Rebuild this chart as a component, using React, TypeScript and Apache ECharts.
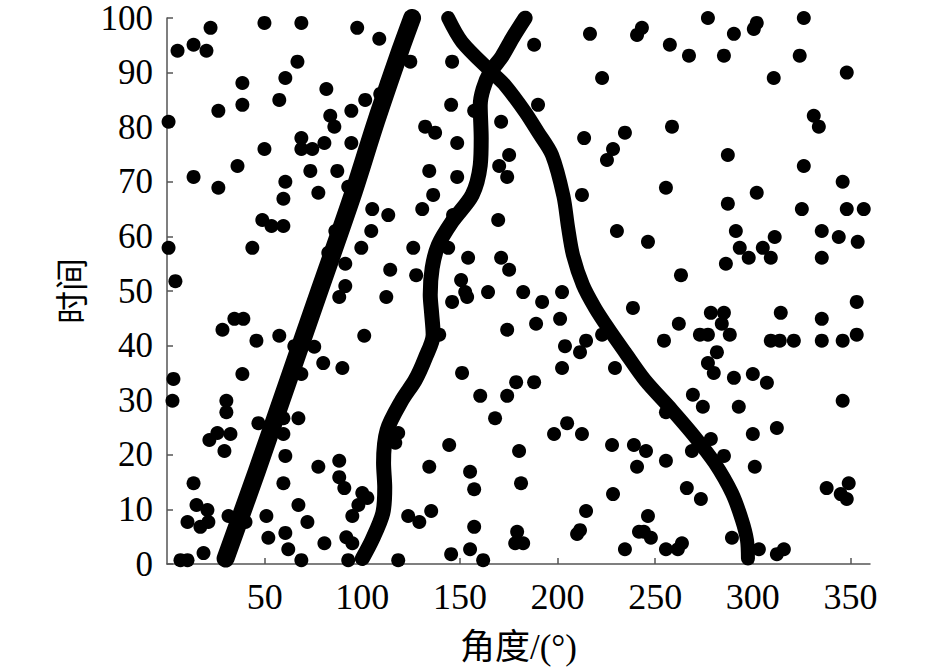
import React, { useEffect, useRef } from "react";
import * as echarts from "echarts";

const xTickValues = [50, 100, 150, 200, 250, 300, 350];
const yTickValues = [0, 10, 20, 30, 40, 50, 60, 70, 80, 90, 100];

// Three target tracks (angle, time)
const track1: number[][] = [
  [30, 1], [46, 17], [62, 33.5], [78, 50], [95, 67.5], [107, 81], [119.4, 94], [125.5, 100],
];
const track2: number[][] = [
  [100, 1], [105, 4.4], [110.5, 9.3], [111.5, 14], [110.9, 18.5], [112.7, 24.5], [120.3, 30],
  [127.1, 33.7], [132.2, 37.7], [136.3, 42], [135.5, 46], [134.8, 49.3], [135.8, 54.2],
  [138.9, 58.4], [146, 62.7], [156.3, 67.6], [160.4, 73], [160.9, 78], [160.4, 84],
  [161.9, 87], [165.4, 90], [171.6, 93], [177.2, 96.5], [183.4, 100],
];
const track3: number[][] = [
  [297.5, 1], [297, 4.4], [294.4, 8.1], [289.3, 13], [280.5, 18.5], [270.3, 23.3],
  [258.6, 28.2], [244.7, 33.7], [234.5, 38.8], [225.9, 43.2], [219.2, 46.9], [213, 51.1],
  [207.9, 56.6], [205.4, 61.6], [203, 67.4], [197.2, 74.9], [190, 79.1], [183.4, 82.8],
  [173.1, 87.7], [166.5, 90], [151.1, 95.6], [144, 100],
];

// Clutter measurements (angle, time)
const clutter: number[][] = [
  [22.3, 98.2], [49.9, 99.1], [68.8, 99.1], [97.4, 98.2], [108.7, 96.2], [5.4, 94.0], [13.6, 95.1],
  [20.2, 94.0], [66.8, 92.0], [60.6, 89.0], [38.6, 88.1], [81.6, 87.0], [112.8, 88.1], [109.2, 86.1],
  [101.5, 85.0], [57.5, 85.0], [38.6, 84.1], [26.3, 83.0], [94.4, 83.0], [83.6, 82.1], [85.7, 80.1],
  [0.8, 81.0], [68.8, 78.0], [68.8, 76.0], [74.4, 76.0], [80.6, 77.1], [94.4, 77.1], [49.9, 76.0],
  [36.1, 72.9], [73.4, 72.0], [87.2, 72.0], [13.6, 70.9], [26.3, 68.9], [60.6, 70.0], [59.6, 66.9],
  [77.5, 68.0], [92.8, 69.1],
  [105.1, 65.0], [113.3, 63.9], [48.8, 63.0], [53.5, 61.9], [59.6, 61.9], [86.2, 61.0], [104.6, 61.0],
  [0.8, 57.9], [43.7, 57.9], [82.6, 57.0], [99.5, 57.9], [91.3, 55.0], [114.3, 53.9], [4.3, 51.8],
  [91.3, 50.9], [88.2, 48.9], [112.3, 48.9], [34.5, 44.9], [39.1, 44.9], [28.4, 42.9], [45.8, 40.9],
  [57.5, 41.8], [101.0, 41.8], [65.2, 39.9], [75.4, 39.8], [80.0, 36.8], [89.8, 35.9], [68.8, 34.8],
  [38.6, 34.8], [3.3, 33.9],
  [2.8, 29.9], [30.4, 29.9], [30.4, 27.8], [46.8, 25.8], [59.6, 26.7], [67.3, 26.7], [59.6, 23.8],
  [21.7, 22.7], [25.8, 24.0], [32.5, 23.8], [29.4, 20.7], [60.6, 19.8], [77.5, 17.8], [88.2, 18.9],
  [88.2, 15.9], [90.8, 13.9], [59.6, 14.8], [13.6, 14.8], [15.1, 10.8], [20.7, 9.9], [10.5, 7.7],
  [17.1, 6.8], [21.2, 7.7], [31.5, 8.8], [40.2, 7.7], [50.9, 8.8], [67.3, 10.8], [71.9, 7.7],
  [60.6, 5.7], [51.9, 4.8], [62.1, 2.7], [68.8, 0.7], [18.7, 2.0], [6.9, 0.7], [10.5, 0.7],
  [80.6, 3.8], [91.8, 4.9], [94.9, 3.8], [92.8, 0.7], [94.9, 8.8], [100.0, 13.0], [102.6, 12.1],
  [98.0, 10.8], [116.9, 22.2], [118.4, 24.0], [118.4, 0.7],
  [136.3, 67.6], [212.5, 67.6], [130.7, 65.0], [146.5, 63.9], [169.6, 63.0], [230.4, 61.0],
  [126.1, 57.9], [144.0, 57.9], [154.2, 56.1], [171.1, 56.1], [175.2, 53.9], [127.6, 52.9],
  [150.6, 52.0], [152.7, 49.8], [153.7, 48.9], [146.0, 48.0], [164.4, 49.8], [182.4, 49.8],
  [192.1, 48.0], [202.3, 49.8], [201.3, 44.9], [238.6, 46.9], [189.0, 44.0], [174.2, 42.9],
  [139.4, 42.0], [203.8, 39.9], [214.6, 40.9], [211.5, 38.8], [222.8, 42.0], [202.3, 35.9],
  [229.4, 35.9], [151.1, 35.0], [178.8, 33.3], [188.0, 33.3],
  [160.4, 30.8], [174.2, 30.8], [168.0, 26.7], [198.2, 23.8], [204.9, 25.8], [212.5, 23.8],
  [227.9, 21.8], [239.1, 21.8], [240.7, 17.8], [144.5, 21.8], [180.3, 20.7], [134.3, 17.8],
  [155.2, 16.9], [157.3, 13.7], [181.3, 14.8], [228.4, 12.8], [214.6, 9.7], [123.5, 8.8],
  [129.2, 7.7], [135.3, 9.7], [157.3, 6.8], [155.2, 2.7], [145.5, 1.8], [161.9, 0.7], [179.3, 5.9],
  [178.3, 3.8], [182.4, 3.8], [210.0, 5.5], [211.5, 6.2], [234.5, 2.7], [241.7, 5.9],
  [124.6, 92.0], [146.0, 92.0], [188.0, 95.1], [216.6, 97.1], [222.8, 89.0], [145.5, 84.1],
  [190.0, 84.1], [157.3, 83.0], [171.1, 81.0], [132.2, 80.1], [137.3, 79.0], [148.6, 77.1],
  [213.6, 78.0], [234.5, 79.0], [228.4, 76.0], [225.3, 74.0], [175.2, 74.9], [170.1, 72.9],
  [174.2, 70.9], [134.3, 72.0], [148.6, 70.9],
  [243.2, 98.2], [240.7, 96.9], [277.0, 100.0], [326.1, 100.0], [302.0, 99.1], [300.5, 98.0],
  [290.3, 97.1], [257.5, 95.1], [267.3, 93.1], [285.2, 93.1], [324.0, 93.1], [348.1, 90.0],
  [310.7, 89.0], [331.2, 82.1], [333.8, 80.1], [258.6, 80.1], [287.2, 74.9], [326.1, 72.9],
  [255.5, 68.9], [302.0, 68.0], [346.0, 70.0],
  [287.2, 66.0], [325.1, 65.0], [348.1, 65.0], [356.8, 65.0], [246.3, 59.0], [291.3, 61.0],
  [311.2, 59.9], [293.3, 57.9], [305.1, 57.9], [297.9, 56.1], [309.2, 56.1], [286.2, 55.0],
  [335.3, 61.0], [344.0, 59.9], [353.7, 59.0], [335.3, 56.1], [263.2, 52.9], [353.2, 48.0],
  [278.5, 46.0], [285.2, 46.0], [284.1, 44.0], [262.1, 44.0], [314.3, 46.0], [335.3, 44.9],
  [353.2, 42.0], [254.5, 40.9], [272.9, 42.0], [277.0, 42.0], [288.2, 42.0], [309.2, 40.9],
  [313.8, 40.9], [321.0, 40.9], [335.3, 40.9], [346.0, 40.9], [281.6, 38.8], [277.0, 36.8],
  [280.0, 35.0], [290.3, 34.1], [300.0, 34.8], [307.2, 33.2],
  [269.3, 31.0], [274.4, 28.8], [292.8, 28.8], [346.0, 29.9], [312.3, 24.9], [300.0, 23.8],
  [301.0, 17.8], [278.5, 22.9], [285.2, 19.8], [268.8, 20.7], [255.5, 27.8], [245.3, 20.7],
  [255.5, 18.9], [266.2, 13.9], [273.4, 11.9], [246.3, 8.8], [244.2, 5.9], [247.8, 4.8],
  [255.5, 2.7], [261.6, 2.7], [263.7, 3.8], [289.3, 4.8], [303.1, 2.7], [312.3, 1.8], [315.9, 2.7],
  [337.8, 13.9], [349.1, 14.8], [345.0, 12.8], [348.1, 11.9],
];

const FONT = "'Liberation Serif', 'Times New Roman', 'Noto Sans CJK SC', serif";
const AXIS_COLOR = "#555";

export default function App() {
  const ref = useRef<HTMLDivElement>(null);
  useEffect(() => {
    if (!ref.current) return;
    const chart = echarts.init(ref.current, null, { renderer: "svg" });
    const trackSeries = (data: number[][], width: number) => ({
      type: "line",
      data,
      showSymbol: false,
      smooth: 0.3,
      clip: true,
      lineStyle: { color: "#000", width, cap: "round", join: "round", opacity: 1 },
      z: 3,
    });
    chart.setOption({
      animation: false,
      backgroundColor: "#fff",
      grid: { left: 167, right: 75, top: 18, bottom: 108 },
      xAxis: {
        type: "value",
        min: 0,
        max: 360,
        interval: 50,
        name: "角度/(°)",
        nameLocation: "middle",
        nameGap: 66,
        nameTextStyle: { fontFamily: FONT, fontSize: 35, color: "#000" },
        axisLine: { show: true, lineStyle: { color: AXIS_COLOR, width: 1.5 } },
        axisTick: { show: true, inside: true, length: 6, customValues: xTickValues, lineStyle: { color: AXIS_COLOR, width: 1.5 } },
        axisLabel: { customValues: xTickValues, fontFamily: FONT, fontSize: 36, color: "#000", margin: 15 },
        splitLine: { show: false },
      },
      yAxis: {
        type: "value",
        min: 0,
        max: 100,
        interval: 10,
        name: "时间",
        nameLocation: "middle",
        nameGap: 52,
        nameTextStyle: { fontFamily: FONT, fontSize: 33, color: "#000" },
        axisLine: { show: true, lineStyle: { color: AXIS_COLOR, width: 1.5 } },
        axisTick: { show: true, inside: true, length: 6, customValues: yTickValues, lineStyle: { color: AXIS_COLOR, width: 1.5 } },
        axisLabel: { customValues: yTickValues, fontFamily: FONT, fontSize: 35, color: "#000", margin: 14 },
        splitLine: { show: false },
      },
      series: [
        {
          type: "scatter",
          data: clutter,
          symbol: "circle",
          symbolSize: 14,
          itemStyle: { color: "#000", opacity: 1 },
          z: 2,
        },
        trackSeries(track1, 18),
        trackSeries(track2, 15),
        trackSeries(track3, 14),
      ],
    });
    return () => chart.dispose();
  }, []);
  return (
    <div
      ref={ref}
      style={{ position: "absolute", left: 0, top: 0, width: 945, height: 672, background: "#fff" }}
    />
  );
}
